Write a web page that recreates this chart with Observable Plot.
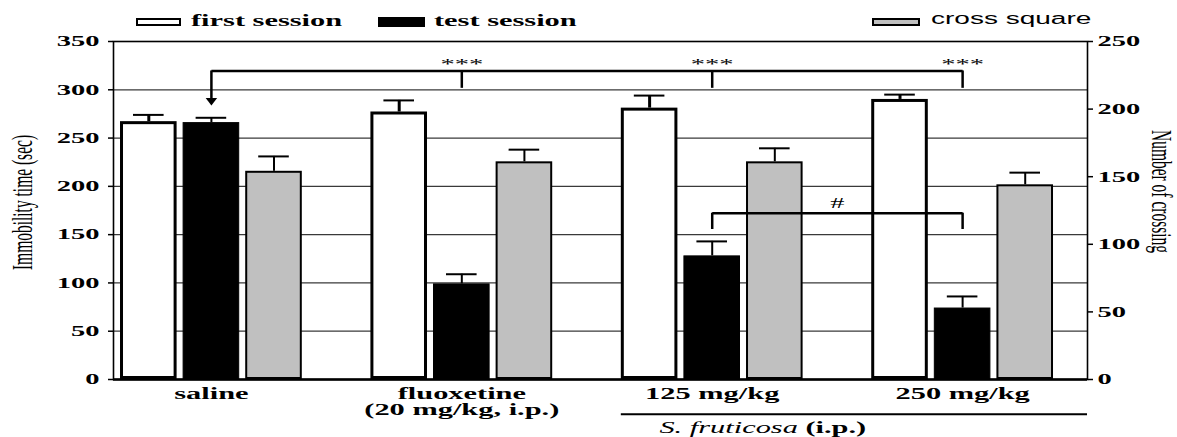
<!DOCTYPE html>
<html><head><meta charset="utf-8">
<script src="https://cdn.jsdelivr.net/npm/d3@7"></script>
<script src="https://cdn.jsdelivr.net/npm/@observablehq/plot@0.6"></script>
<style>
body{margin:0;background:#fff;}
#wrap{position:relative;width:1177px;height:437px;overflow:hidden;}
.sw{position:absolute;box-sizing:border-box;}
.lg{position:absolute;white-space:nowrap;transform-origin:0 50%;line-height:16px;color:#000;}
.serif{font-family:"Liberation Serif",serif;font-weight:bold;font-size:16px;transform:scaleX(1.9);}
.sans{font-family:"Liberation Sans",sans-serif;font-size:16px;transform:scaleX(1.75);}
</style></head><body><div id="wrap"></div>
<script>
// ---------- data ----------
const groups = ["saline", "fluoxetine", "125 mg/kg", "250 mg/kg"];
const groupLabels = ["saline", "fluoxetine\n(20 mg/kg, i.p.)", "125 mg/kg", "250 mg/kg"];
const series = ["first session", "test session", "cross square"];
const firstSession = [267, 277, 281, 290];
const firstSessionErr = [7, 12, 13, 5];
const testSession = [266, 99, 128, 74];
const testSessionErr = [5, 10, 15, 12];
const crossSquare = [154, 161, 161, 144];      // right axis (Number of crossing)
const crossSquareErr = [11, 9, 10, 9];
const leftTicks = [0, 50, 100, 150, 200, 250, 300, 350];
const rightTicks = [0, 50, 100, 150, 200, 250];
const leftTitle = "Immobility time (sec)";
const rightTitle = "Number of crossing";
const subLabel = "S. fruticosa (i.p.)";
// significance annotations (reference group = saline, test session)
const starTargets = ["fluoxetine", "125 mg/kg", "250 mg/kg"];
const starText = "***";
const hashPair = ["125 mg/kg", "250 mg/kg"];
const hashText = "#";

// ---------- derived ----------
const leftMax = leftTicks[leftTicks.length - 1];
const rightMax = rightTicks[rightTicks.length - 1];
const K = leftMax / rightMax;
const key = (g, s) => g + "|" + s;
const slots = groups.flatMap((g, i) => [
  ...series.map(s => key(g, s)),
  ...(i < groups.length - 1 ? ["gap|" + i] : [])
]);
const bars = groups.flatMap((g, i) => [
  {key: key(g, series[0]), series: series[0], value: firstSession[i], err: firstSessionErr[i]},
  {key: key(g, series[1]), series: series[1], value: testSession[i], err: testSessionErr[i]},
  {key: key(g, series[2]), series: series[2], value: crossSquare[i] * K, err: crossSquareErr[i] * K}
]);
const bySeries = s => bars.filter(d => d.series === s);
const T = g => key(g, series[1]);
const ref = groups[0];
const lastStar = starTargets[starTargets.length - 1];
const hashGap = "gap|" + groups.indexOf(hashPair[0]);

// annotation levels (left-axis units)
const bracketY = 319.5, bracketTickY = 301.5, arrowTipY = 287.5, arrowShaftEnd = 291, starY = 326;
const hashY = 172.2, hashTickY = 155.3, hashTextY = 183;
const underLineY = -36, subLabelY = -50;

const serif = "Liberation Serif";
const lw = 2.5;

const chart = Plot.plot({
  width: 1177, height: 437,
  marginLeft: 113, marginRight: 90, marginTop: 41, marginBottom: 58,
  style: {background: "white", fontFamily: serif},
  x: {type: "band", domain: slots, paddingInner: 0.096, paddingOuter: 0.3275, align: 0.171, round: false, axis: null},
  y: {domain: [0, leftMax]},
  marks: [
    Plot.ruleY(leftTicks.filter(v => v > 0 && v < leftMax), {stroke: "#3a3a3a", strokeWidth: 1.2}),
    Plot.barY(bySeries(series[0]), {x: "key", y: "value", fill: "white", stroke: "black", strokeWidth: 3, inset: 1.5}),
    Plot.barY(bySeries(series[1]), {x: "key", y: "value", fill: "black", stroke: "black", strokeWidth: 1, inset: 0.5}),
    Plot.barY(bySeries(series[2]), {x: "key", y: "value", fill: "#c0c0c0", stroke: "black", strokeWidth: 2, inset: 1}),
    Plot.ruleX(bars, {x: "key", y1: "value", y2: d => d.value + d.err, stroke: "black", strokeWidth: d => d.series === series[0] ? 3 : 2}),
    Plot.tickY(bars, {x: "key", y: d => d.value + d.err, stroke: "black", strokeWidth: 2, inset: 13}),
    Plot.frame({stroke: "black", strokeWidth: 1.6}),
    Plot.ruleY([0], {stroke: "black", strokeWidth: 2.5}),
    Plot.axisY(leftTicks, {anchor: "left", tickSize: 5, tickPadding: 9, strokeWidth: 1.5, fontSize: 15, fontWeight: "bold", fontFamily: serif, label: null}),
    Plot.axisY(rightTicks.map(v => v * K), {anchor: "right", tickSize: 5, tickPadding: 5, strokeWidth: 1.5, fontSize: 15, fontWeight: "bold", fontFamily: serif, label: null,
      tickFormat: d => String(Math.round(d / K))}),
    Plot.text([leftTitle], {frameAnchor: "left", textAnchor: "middle", text: d => d, rotate: -90, dx: -91, dy: -8, fontSize: 15.5, fontFamily: serif}),
    Plot.text([rightTitle], {frameAnchor: "right", textAnchor: "middle", text: d => d, rotate: 90, dx: 74, dy: -19, fontSize: 15.5, fontFamily: serif}),
    // category labels
    Plot.text(groups, {x: g => T(g), text: (g, i) => groupLabels[i], frameAnchor: "bottom", lineAnchor: "top", dy: 8, lineHeight: 1, fontSize: 16, fontWeight: "bold", fontFamily: serif}),
    Plot.ruleY([underLineY], {x1: () => key(hashPair[0], series[0]), x2: () => key(hashPair[1], series[2]), insetRight: -34, stroke: "black", strokeWidth: 2}),
    Plot.text([subLabel], {x: () => key(hashPair[0], series[2]), y: subLabelY, text: d => d, dx: -12, fontSize: 16, fontWeight: "bold", fontFamily: serif}),
    // *** bracket
    Plot.link([ref], {x1: g => T(g), x2: () => T(lastStar), y1: bracketY, y2: bracketY, stroke: "black", strokeWidth: lw}),
    Plot.ruleX(starTargets, {x: g => T(g), y1: bracketTickY, y2: bracketY, stroke: "black", strokeWidth: lw}),
    Plot.ruleX([ref], {x: g => T(g), y1: arrowShaftEnd, y2: bracketY, stroke: "black", strokeWidth: lw}),
    Plot.dot([ref], {x: g => T(g), y: arrowTipY, r: 5, fill: "black", stroke: "none",
      symbol: {draw(ctx, size) { const s = Math.sqrt(size / Math.PI); ctx.moveTo(-1.15 * s, -0.75 * s); ctx.lineTo(1.15 * s, -0.75 * s); ctx.lineTo(0, 0.75 * s); ctx.closePath(); }}}),
    Plot.text(starTargets, {x: g => T(g), y: starY, text: () => starText, fontSize: 15, fontFamily: serif}),
    // # bracket
    Plot.link([hashPair], {x1: p => T(p[0]), x2: p => T(p[1]), y1: hashY, y2: hashY, stroke: "black", strokeWidth: lw}),
    Plot.ruleX(hashPair, {x: g => T(g), y1: hashTickY, y2: hashY, stroke: "black", strokeWidth: lw}),
    Plot.text([hashText], {x: () => hashGap, y: hashTextY, text: d => d, fontSize: 15, fontFamily: serif})
  ]
});

// mixed style for the sub label
const ns = "http://www.w3.org/2000/svg";
chart.querySelectorAll("text").forEach(el => {
  if (el.textContent === subLabel) {
    el.textContent = "";
    const a = document.createElementNS(ns, "tspan");
    a.setAttribute("font-style", "italic"); a.setAttribute("font-weight", "normal");
    a.textContent = "S. fruticosa ";
    const b = document.createElementNS(ns, "tspan");
    b.setAttribute("font-weight", "bold");
    b.textContent = "(i.p.)";
    el.appendChild(a); el.appendChild(b);
  }
});

const wrap = document.getElementById("wrap");
wrap.appendChild(chart);

// horizontally stretched lettering, as in the reference
chart.querySelectorAll("text").forEach(el => {
  const m = el.getCTM();
  const rotated = m && Math.abs(m.b) > 0.5;
  const t = el.getAttribute("transform") || "";
  const x = +el.getAttribute("x") || 0, y = +el.getAttribute("y") || 0;
  const sc = rotated ? "scale(1,1.9)" : "scale(1.9,1)";
  el.setAttribute("transform", `${t} translate(${x},${y}) ${sc} translate(${-x},${-y})`);
});

// legend (overlaid in the top margin)
const legend = [
  {label: series[0], cls: "serif", sw: {left: 136, top: 18, width: 45, height: 8, background: "white", border: "2.5px solid black"}, text: {left: 191, top: 13}},
  {label: series[1], cls: "serif", sw: {left: 378, top: 17, width: 47, height: 10, background: "black"}, text: {left: 434, top: 13}},
  {label: series[2], cls: "sans", sw: {left: 872, top: 18, width: 48, height: 8, background: "#c0c0c0", border: "2px solid black"}, text: {left: 931, top: 11}}
];
legend.forEach(l => {
  const s = document.createElement("div");
  s.className = "sw";
  Object.entries(l.sw).forEach(([k, v]) => s.style[k] = typeof v === "number" ? v + "px" : v);
  wrap.appendChild(s);
  const t = document.createElement("div");
  t.className = "lg " + l.cls;
  t.style.left = l.text.left + "px"; t.style.top = l.text.top + "px";
  t.textContent = l.label;
  wrap.appendChild(t);
});
</script></body></html>
